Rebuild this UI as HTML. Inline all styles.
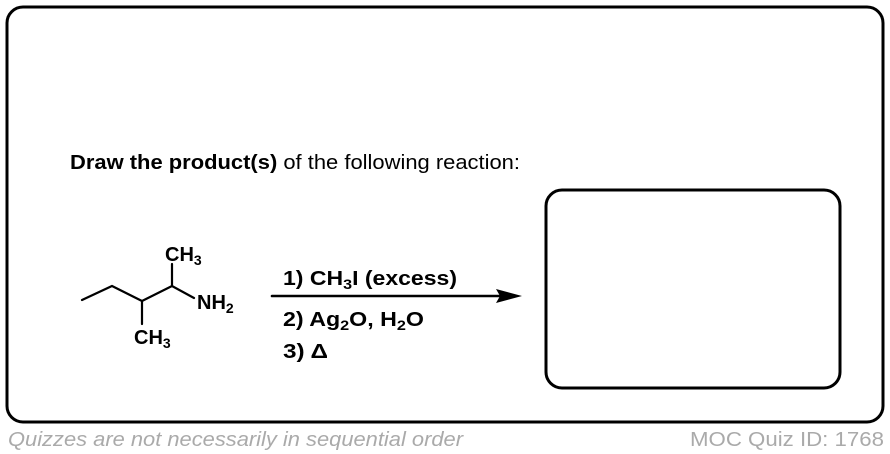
<!DOCTYPE html>
<html><head><style>
html,body{margin:0;padding:0;background:#fff;width:890px;height:454px;overflow:hidden;font-family:"Liberation Sans",Arial,sans-serif;}
</style></head><body>
<svg width="890" height="454" xmlns="http://www.w3.org/2000/svg" style="position:absolute;left:0;top:0">
<rect x="7" y="7" width="876" height="415" rx="16" fill="none" stroke="#000" stroke-width="3"/>
<rect x="546" y="190" width="294" height="198" rx="16" fill="none" stroke="#000" stroke-width="3"/>
<text x="70" y="169" font-size="20" fill="#000" textLength="450" lengthAdjust="spacingAndGlyphs"><tspan font-weight="bold">Draw the product(s)</tspan> of the following reaction:</text>
<g stroke="#000" stroke-width="2.2" fill="none" stroke-linecap="round">
<polyline points="82,300 112,286 142,301 172,286 194,298"/>
<line x1="172" y1="286" x2="172" y2="264"/>
<line x1="142" y1="301" x2="142" y2="324"/>
<line x1="272" y1="296" x2="500" y2="296" stroke-width="2.6"/>
</g>
<polygon points="522,296 496,289 500,296 496,303" fill="#000"/>
<g font-size="20" font-weight="bold" fill="#000">
<text x="165" y="261">CH<tspan font-size="14" dy="4">3</tspan></text>
<text x="197" y="309">NH<tspan font-size="14" dy="4">2</tspan></text>
<text x="134" y="344">CH<tspan font-size="14" dy="4">3</tspan></text>
<text x="283" y="285" textLength="174" lengthAdjust="spacingAndGlyphs">1)  CH<tspan font-size="14" dy="4">3</tspan><tspan dy="-4">I (excess)</tspan></text>
<text x="283" y="326" textLength="141" lengthAdjust="spacingAndGlyphs">2)  Ag<tspan font-size="14" dy="4">2</tspan><tspan dy="-4">O, H</tspan><tspan font-size="14" dy="4">2</tspan><tspan dy="-4">O</tspan></text>
<text x="283" y="358" textLength="45" lengthAdjust="spacingAndGlyphs">3)  Δ</text>
</g>
<text x="8" y="446" font-size="20" font-style="italic" fill="#aaa" textLength="455" lengthAdjust="spacingAndGlyphs">Quizzes are not necessarily in sequential order</text>
<text x="690" y="446" font-size="20" fill="#aaa" textLength="194" lengthAdjust="spacingAndGlyphs">MOC Quiz ID: 1768</text>
</svg>
</body></html>
